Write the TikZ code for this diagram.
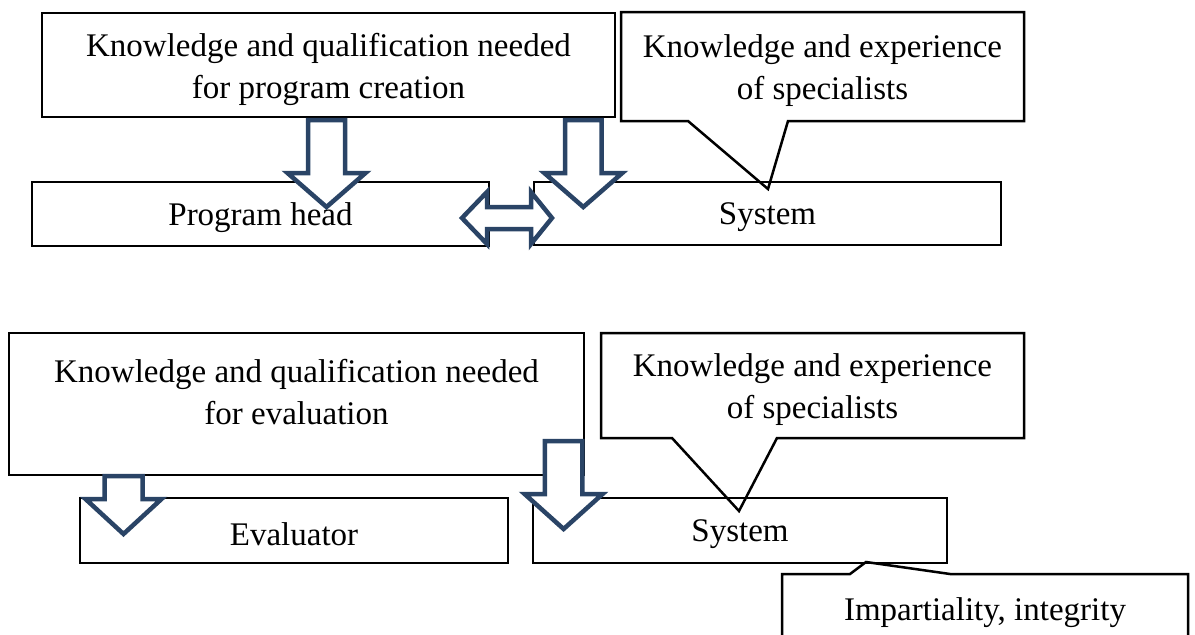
\documentclass[tikz,border=0pt]{standalone}
\usepackage{fontspec}
\setmainfont{Liberation Serif}
\definecolor{arrowblue}{HTML}{2A4466}
\tikzset{
  box/.style={draw=black, line width=2.5pt, fill=white, inner sep=0pt},
  txt/.style={inner sep=0pt, align=center, yshift=-4pt,
    font=\fontsize{33}{42}\selectfont},
  outline/.style={draw=black, line width=2.5pt, line join=miter},
  blk/.style={draw=arrowblue, line width=4.5pt, fill=white, line join=miter},
  % hollow block arrow pointing down: shaft half-width / head half-width / shaft length / total length
  pics/downarrow/.style args={#1/#2/#3/#4}{code={
    \draw[blk] (-#1,0) -- (#1,0) -- (#1,#3) -- (#2,#3) -- (0,#4)
      -- (-#2,#3) -- (-#1,#3) -- cycle;
  }}
}
\begin{document}
\begin{tikzpicture}[x=1pt,y=-1pt]
\useasboundingbox (0,0) rectangle (1195,635);
\clip (0,0) rectangle (1195,635);

% ---------- upper block: program creation ----------
\node[box, minimum width=573, minimum height=104] (kqp) at (328.5,65) {};
\node[txt] (kqptext) at (kqp) {Knowledge and qualification needed\\for program creation};
\node[box, minimum width=457, minimum height=64] (head) at (260.5,214) {};
\node[txt] (headtext) at (head) {Program head};
\node[box, minimum width=467, minimum height=63] (sys1) at (767.5,213.5) {};
\node[txt] (sys1text) at (sys1) {System};

% callout: knowledge of specialists (upper)
\node[txt] (spec1) at (822.5,66.5) {Knowledge and experience\\of specialists};
\coordinate (tip1) at (768,189);
\draw[outline] (621,12) -- (1024,12) -- (1024,121) -- (788,121) -- (tip1)
  -- (688,121) -- (621,121) -- cycle;

% block arrows of the upper block
\pic at (326.5,120) {downarrow=18.5/39/53/87};
\pic at (583.3,120) {downarrow=18.3/39/53/87};
\draw[blk] (462,218) -- (487,192) -- (487,207) -- (531,207) -- (531,192)
  -- (552,218) -- (531,244) -- (531,229) -- (487,229) -- (487,244) -- cycle;

% ---------- lower block: evaluation ----------
\node[box, minimum width=575, minimum height=142] (kqe) at (296.5,404) {};
\node[txt] (kqetext) at (296.5,388) {Knowledge and qualification needed\\for evaluation};
\node[box, minimum width=428, minimum height=65] (eval) at (294,530.5) {};
\node[txt] (evaltext) at (eval) {Evaluator};
\node[box, minimum width=414, minimum height=65] (sys2) at (740,530.5) {};
\node[txt] (sys2text) at (sys2) {System};

% callout: knowledge of specialists (lower)
\node[txt] (spec2) at (812.5,386) {Knowledge and experience\\of specialists};
\coordinate (tip2) at (739,511);
\draw[outline] (601,333) -- (1024,333) -- (1024,438) -- (777,438) -- (tip2)
  -- (672,438) -- (601,438) -- cycle;

% callout: impartiality
\node[txt] (imp) at (985,609) {Impartiality, integrity};
\coordinate (tip3) at (866,562);
\draw[outline] (782,660) -- (782,574) -- (850,574) -- (tip3) -- (950,574)
  -- (1188,574) -- (1188,660);

% block arrows of the lower block
\pic at (123.5,476) {downarrow=19/38/23/58};
\pic at (563.6,441) {downarrow=18.7/39/53/88};
\end{tikzpicture}
\end{document}
